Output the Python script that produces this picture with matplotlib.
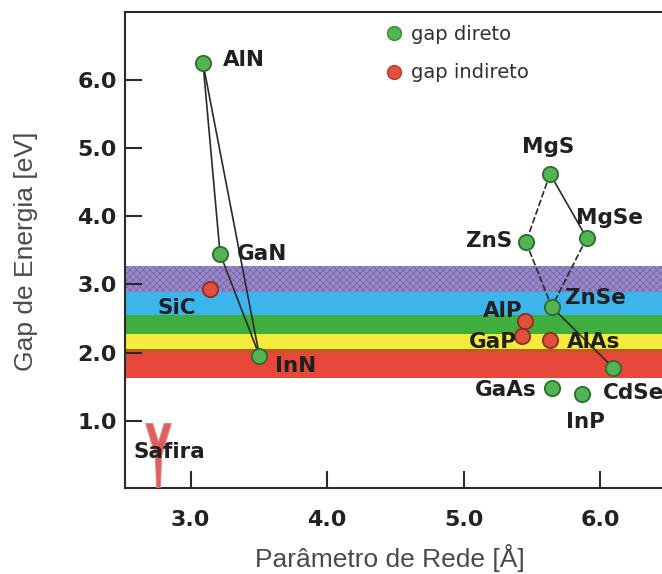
import matplotlib
matplotlib.use('Agg')
import matplotlib.pyplot as plt
from matplotlib.path import Path
from matplotlib.lines import Line2D

# compounds: lattice parameter [A] and energy gap [eV]
names = ['AlN', 'GaN', 'InN', 'SiC', 'MgS', 'MgSe', 'ZnS', 'ZnSe',
         'AlP', 'GaP', 'AlAs', 'CdSe', 'GaAs', 'InP']
lattice = [3.09, 3.215, 3.503, 3.141, 5.634, 5.903, 5.458, 5.647,
           5.451, 5.427, 5.634, 6.098, 5.647, 5.867]
gap = [6.24, 3.45, 1.96, 2.94, 4.62, 3.68, 3.62, 2.67,
       2.47, 2.25, 2.19, 1.78, 1.49, 1.39]
direct = [True, True, True, False, True, True, True, True,
          False, False, False, True, True, True]

# substrate
safira_a = 2.76
safira_gap = 0.51

# alloy lines between compounds
links_solid = [('AlN', 'GaN'), ('AlN', 'InN'), ('GaN', 'InN'),
               ('MgS', 'MgSe'), ('ZnSe', 'CdSe')]
links_dashed = [('MgS', 'ZnS'), ('ZnS', 'ZnSe'), ('MgSe', 'ZnSe')]

# visible spectrum bands [eV]
band_lo = [2.89, 2.55, 2.27, 2.05, 2.00, 1.63]
band_hi = [3.27, 2.89, 2.55, 2.27, 2.05, 2.00]
band_colors = ['#9888c8', '#3cb4ec', '#3fae3f', '#f4ec3c', '#c05a20', '#e8483a']

xticks = [3.0, 4.0, 5.0, 6.0]
yticks = [1.0, 2.0, 3.0, 4.0, 5.0, 6.0]

# label placement: (dx, dy) in pixels from the marker, alignment
label_pos = {
    'AlN': (20, 5, 'left'), 'GaN': (17, 2, 'left'), 'InN': (16, -8, 'left'),
    'SiC': (-33, -17, 'center'), 'MgS': (-2, 29, 'center'),
    'MgSe': (-11, 22, 'left'), 'ZnS': (-14, 3, 'right'),
    'ZnSe': (13, 11, 'left'), 'AlP': (-3, 12, 'right'),
    'GaP': (-5, -4, 'right'), 'AlAs': (17, 0, 'left'),
    'CdSe': (-10, -23, 'left'), 'GaAs': (-15, 0, 'right'),
    'InP': (4, -26, 'center'),
}

plt.rcParams['hatch.linewidth'] = 0.5

fig = plt.figure(figsize=(6.62, 5.74), dpi=100)
ax = fig.add_axes([125 / 662, 1 - 488 / 574, 1 - 125 / 662, (488 - 12) / 574])

for i in range(len(band_lo)):
    if i == 0:
        ax.axhspan(band_lo[i], band_hi[i], facecolor=band_colors[i],
                   edgecolor='#7464aa', hatch='xxxxx', lw=0, zorder=0)
    else:
        ax.axhspan(band_lo[i], band_hi[i], color=band_colors[i], lw=0, zorder=0)

idx = {n: i for i, n in enumerate(names)}
for a, b in links_solid:
    ax.plot([lattice[idx[a]], lattice[idx[b]]], [gap[idx[a]], gap[idx[b]]],
            color='#2a2a2a', lw=1.2, zorder=2)
for a, b in links_dashed:
    ax.plot([lattice[idx[a]], lattice[idx[b]]], [gap[idx[a]], gap[idx[b]]],
            color='#2a2a2a', lw=1.2, ls=(0, (4, 1.5)), zorder=2)

green = '#52b452'
red = '#e0503c'
for i, n in enumerate(names):
    if direct[i]:
        fc, ec = green, '#2f6a2f'
    else:
        fc, ec = red, '#8a3020'
    ax.plot(lattice[i], gap[i], 'o', ms=11, mfc=fc, mec=ec, mew=1.3, zorder=3)
    dx, dy, ha = label_pos[n]
    ax.annotate(n, (lattice[i], gap[i]), xytext=(dx, dy), textcoords='offset pixels',
                ha=ha, va='center_baseline', fontsize=15.5, fontweight='bold',
                color='#202020', zorder=5)

# sapphire: red Y-shaped mark
y_verts = [(-0.40, 1), (-0.18, 1), (0, 0.42), (0.18, 1), (0.40, 1),
           (0.10, 0.0), (0.06, -1), (-0.06, -1), (-0.10, 0.0), (-0.40, 1)]
y_marker = Path(y_verts, closed=True)
ax.plot(safira_a, safira_gap, marker=y_marker, ms=46, mfc='#d84444',
        mec='#e88080', mew=0.8, alpha=0.85, zorder=3)
ax.annotate('Safira', (safira_a, safira_gap), xytext=(-25, 5),
            textcoords='offset pixels', ha='left', va='center_baseline',
            fontsize=15.5, fontweight='bold', color='#202020', zorder=5)

ax.set_xlim(2.518, 6.455)
ax.set_ylim(0.02, 6.99)
ax.set_xticks(xticks)
ax.set_yticks(yticks)
ax.set_xticklabels(['%.1f' % v for v in xticks])
ax.set_yticklabels(['%.1f' % v for v in yticks])
ax.tick_params(direction='in', length=12, width=1.5, color='#2a2a2a',
               labelcolor='#222222', labelsize=16)
ax.tick_params(axis='x', pad=16)
ax.tick_params(axis='y', pad=6)
for lab in ax.get_xticklabels() + ax.get_yticklabels():
    lab.set_fontweight('bold')

ax.spines['right'].set_visible(False)
for s in ['left', 'top', 'bottom']:
    ax.spines[s].set_color('#2a2a2a')
    ax.spines[s].set_linewidth(1.5)

ax.set_xlabel('Parâmetro de Rede [Å]', fontsize=19, color='#4a4a4a',
              family='Liberation Sans')
ax.set_ylabel('Gap de Energia [eV]', fontsize=19, color='#4a4a4a',
              family='Liberation Sans')
ax.xaxis.set_label_coords((390 - 125) / 537, (488 - 544) / 476)
ax.yaxis.set_label_coords((38 - 125) / 537, 0.498)

handles = [Line2D([], [], ls='none', marker='o', ms=10, mfc=green, mec='#3c8a3c'),
           Line2D([], [], ls='none', marker='o', ms=10, mfc=red, mec='#b04030')]
ax.legend(handles, ['gap direto', 'gap indireto'], loc='upper left',
          bbox_to_anchor=(384 / 662, 1 - 25 / 574), bbox_transform=fig.transFigure,
          frameon=False, fontsize=14, handlelength=1.0, handletextpad=0.4,
          labelspacing=1.0, borderpad=0, borderaxespad=0, labelcolor='#303030')

fig.savefig('out.png', dpi=100)
